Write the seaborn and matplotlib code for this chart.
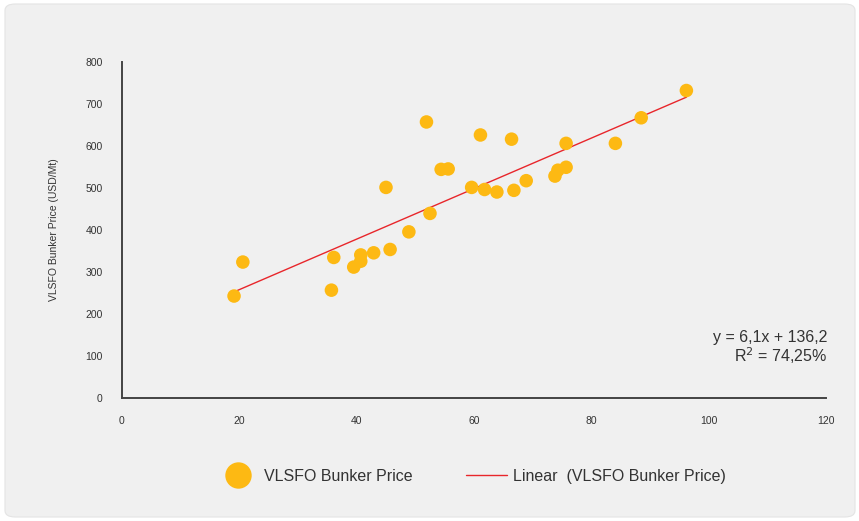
import numpy as np
import pandas as pd
import seaborn as sns
import matplotlib.pyplot as plt
from matplotlib.lines import Line2D
from matplotlib.patches import FancyBboxPatch

# values
x_vals = [19.1, 20.6, 35.7, 36.1, 39.5, 40.7, 40.7, 42.9, 45.7, 45.0, 48.9, 52.5,
          51.9, 54.4, 55.6, 59.6, 61.1, 61.8, 63.9, 66.4, 66.8, 68.9, 73.8, 74.3,
          75.7, 75.7, 84.1, 88.5, 96.2]
y_vals = [242, 323, 256, 334, 311, 325, 340, 345, 353, 501, 395, 439,
          657, 544, 545, 501, 626, 496, 490, 616, 494, 517, 528, 542,
          549, 606, 606, 667, 732]
x_ticks = [0, 20, 40, 60, 80, 100, 120]
y_ticks = [0, 100, 200, 300, 400, 500, 600, 700, 800]
series_name = "VLSFO Bunker Price"
trend_name = "Linear  (VLSFO Bunker Price)"
eq_text = "y = 6,1x + 136,2"
r2_text = "R$^2$ = 74,25%"

df = pd.DataFrame({"x": x_vals, "y": y_vals})

yellow = "#FDB913"
red = "#E8262B"
bg = "#F0F0F0"
txt = "#333333"

sns.set_style("white")
plt.rcParams['font.family'] = ['Liberation Sans', 'DejaVu Sans']

fig = plt.figure(figsize=(8.59, 5.21), dpi=100)
fig.patch.set_facecolor("white")
panel = FancyBboxPatch((5 / 859, 4 / 521), 850 / 859, 513 / 521,
                       boxstyle="round,pad=0,rounding_size=0.012",
                       transform=fig.transFigure, facecolor=bg, edgecolor="#E4E4E4",
                       linewidth=0.8, zorder=-10)
fig.patches.append(panel)

ax = fig.add_axes([0.142, 0.237, 0.8196, 0.644])
ax.set_facecolor(bg)

sns.regplot(data=df, x="x", y="y", ax=ax, scatter=False, ci=None,
            line_kws={"color": red, "linewidth": 1.0})
sns.scatterplot(data=df, x="x", y="y", ax=ax, color=yellow, s=95,
                edgecolor="none", zorder=3)

ax.set_xlim(0, 120)
ax.set_ylim(0, 800)
ax.set_xticks(x_ticks)
ax.set_yticks(y_ticks)
ax.tick_params(axis="y", length=0, labelsize=7.5, colors=txt, pad=14)
ax.tick_params(axis="x", length=0, labelsize=7.5, colors=txt, pad=13)
ax.set_xlabel("")
ax.set_ylabel("VLSFO Bunker Price (USD/Mt)", fontsize=7.5, color=txt, labelpad=19)
for s in ["top", "right"]:
    ax.spines[s].set_visible(False)
for s in ["left", "bottom"]:
    ax.spines[s].set_color("#444444")
    ax.spines[s].set_linewidth(1.4)

ax.text(1.002, 0.178, eq_text, transform=ax.transAxes, ha="right", va="center",
        fontsize=11.5, color=txt)
ax.text(1.002, 0.125, r2_text, transform=ax.transAxes, ha="right", va="center",
        fontsize=11.5, color=txt)

handles = [
    Line2D([], [], marker="o", linestyle="none", color=yellow, markersize=19,
           markeredgewidth=0),
    Line2D([], [], color=red, linewidth=1.0),
]
fig.legend(handles, [series_name, trend_name], loc="center",
           bbox_to_anchor=(0.549, 0.086), ncol=2, frameon=False, fontsize=11.5,
           labelcolor=txt, handlelength=2.6, handletextpad=0.35, columnspacing=3.3)

fig.savefig("out.png", dpi=100, facecolor="white")
